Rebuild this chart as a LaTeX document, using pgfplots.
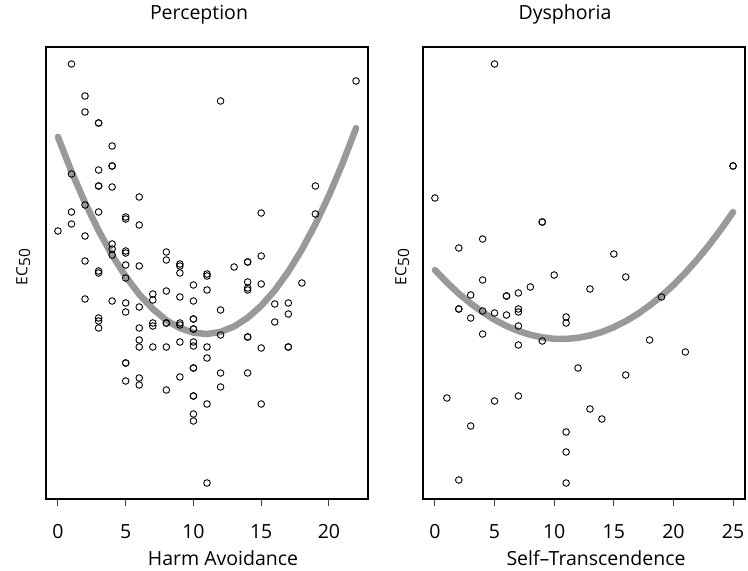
\documentclass[border=0pt]{standalone}
\usepackage{pgfplots}
\pgfplotsset{compat=1.18}
\usepackage{fontspec}
\setmainfont{Open Sans}
\definecolor{curvegray}{HTML}{999999}
\begin{document}
\fontsize{19.5}{23}\selectfont
\begin{tikzpicture}
\useasboundingbox (0,0) rectangle (748pt,571pt);
\pgfplotsset{
  panel/.style={
    anchor=south west, scale only axis, width=322pt, height=452pt,
    ymin=0, ymax=452, ytick=\empty,
    axis line style={line width=1.5pt, black},
    tick align=outside, xtick pos=bottom,
    major tick length=7pt,
    every tick/.style={line width=1pt, black!75},
    /pgf/number format/assume math mode=true,
    tick label style={font=\fontsize{19.5}{23}\selectfont},
    xticklabel style={anchor=base, yshift=-32pt},
    label style={font=\fontsize{19.5}{23}\selectfont},
    ylabel style={font=\fontsize{15.5}{18}\selectfont},
    clip=false,
  },
  pts/.style={only marks, mark=o, mark size=3.3pt, mark options={line width=0.9pt, black}},
  fit/.style={curvegray, line width=6.5pt, line cap=round, line join=round, no marks},
}
\begin{axis}[panel, at={(46pt,72pt)}, xmin=-0.88, xmax=22.88, xtick={0,5,...,20},
  title={Perception}, xlabel={Harm Avoidance}, ylabel={EC\raisebox{-0.35ex}{50}},
  title style={at={(axis description cs:0.5,1)}, anchor=base, yshift=21pt, xshift=-8pt, font=\fontsize{19.5}{23}\selectfont},
  xlabel style={at={(axis description cs:0.5,0)}, anchor=base, yshift=-66pt, xshift=16pt},
  ylabel style={at={(axis description cs:-0.058,0.513)}, anchor=base, rotate=0}]
\addplot[fit] coordinates {
(0,362.1)(1,327.5)(2,296.3)(3,268.4)(4,243.8)(5,222.6)(6,204.6)(7,190.1)(8,178.8)(9,170.9)(10,166.3)(11,165.0)(12,167.1)(13,172.5)(14,181.2)(15,193.3)(16,208.6)(17,227.4)(18,249.4)(19,274.8)(20,303.5)(21,335.5)(22,370.9)};
\addplot[pts] coordinates {
(1,435)(2,403)(2,387)(3,376)(3,376)(4,353)(4,333)(4,333)(3,329)(1,325)(3,313)(3,313)(4,312)(6,302)(1,287)(2,294)(3,287)(5,282)(5,280)(6,274)(0,268)(1,275)(2,263)
(22,418)(12,398)(19,313)(15,286)(19,285)
(4,255)(4,250)(4,244)(5,248)(5,246)(8,247)(8,239)(2,238)(5,234)(6,233)(9,235)(9,233)(9,226)(3,228)(3,226)(5,221)(11,225)(11,223)(10,214)(11,209)(7,205)(7,199)(8,208)(9,202)(10,198)(2,200)(4,198)(5,196)(5,187)(6,192)(3,181)(3,178)(3,171)(6,171)(7,176)(7,173)(8,176)(8,176)(9,176)(9,174)(10,180)(10,180)(10,170)(10,170)(6,159)(6,152)(7,152)(8,152)(9,157)(10,157)(10,153)(11,152)(11,141)(5,136)(5,136)(10,131)(10,131)(5,118)(6,121)(6,114)(9,122)(8,109)(10,103)(10,103)(11,95)(10,85)(10,78)(11,16)
(15,243)(13,232)(14,237)(14,237)(14,217)(14,211)(14,209)(15,215)(18,216)(12,189)(16,195)(17,196)(17,185)(16,177)(12,164)(14,162)(14,162)(15,151)(17,152)(17,152)(12,126)(14,126)(12,112)(15,95)};
\end{axis}
\begin{axis}[panel, at={(423pt,72pt)}, xmin=-1, xmax=26, xtick={0,5,...,25},
  title={Dysphoria}, xlabel={Self\textendash Transcendence}, ylabel={EC\raisebox{-0.35ex}{50}},
  title style={at={(axis description cs:0.5,1)}, anchor=base, yshift=21pt, xshift=-19pt, font=\fontsize{19.5}{23}\selectfont},
  xlabel style={at={(axis description cs:0.5,0)}, anchor=base, yshift=-66pt, xshift=12pt},
  ylabel style={at={(axis description cs:-0.052,0.513)}, anchor=base, rotate=0}]
\addplot[fit] coordinates {
(0,229.0)(1,216.6)(2,205.4)(3,195.5)(4,186.8)(5,179.3)(6,173.0)(7,168.0)(8,164.2)(9,161.6)(10,160.2)(11,160.1)(12,161.2)(13,163.5)(14,167.0)(15,171.8)(16,177.8)(17,185.0)(18,193.5)(19,203.1)(20,214.0)(21,226.2)(22,239.5)(23,254.1)(24,269.9)(25,286.9)};
\addplot[pts] coordinates {
(5,435)(0,301)(9,277)(9,277)(4,260)(2,251)(10,224)(4,219)(25,333)(25,333)(15,245)(16,222)
(3,204)(8,212)(6,203)(6,203)(7,206)(2,190)(2,190)(4,188)(5,186)(6,184)(7,190)(7,187)(3,181)(11,182)(11,176)(7,173)(4,165)(9,158)(7,154)(12,131)(1,101)(5,98)(7,103)(3,73)(11,67)(11,47)(2,19)(11,16)
(13,210)(19,202)(18,159)(21,147)(16,124)(13,90)(14,80)};
\end{axis}
\end{tikzpicture}
\end{document}
